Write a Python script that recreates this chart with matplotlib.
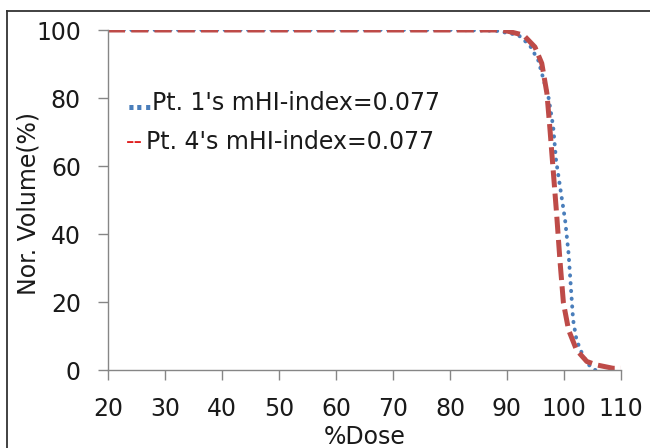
import matplotlib
matplotlib.use("Agg")
import matplotlib.pyplot as plt
from matplotlib.lines import Line2D

plt.rcParams['font.family'] = ['DejaVu Sans']

# Data (dose in %, normalized volume in %)
dose_pt1 = [20, 40, 60, 80, 88, 92, 94, 95.5, 97.3, 98.1, 98.6, 99.3, 100.2, 100.8, 101.2, 101.6, 102.2, 103.4, 104.6, 105.5]
vol_pt1 = [100, 100, 100, 100, 99.8, 98.5, 95.5, 91, 80, 71.6, 61.8, 54, 44, 34.3, 24.5, 14.7, 8.8, 3.9, 1.0, 0.0]

dose_pt4 = [20, 40, 60, 80, 88, 90, 92.9, 94.9, 96.1, 97.0, 97.5, 98.1, 98.7, 99.3, 99.9, 100.8, 102.2, 104.0, 105.7, 108.6, 110]
vol_pt4 = [100, 100, 100, 100, 100, 99.7, 98.5, 95, 90.2, 81.4, 71.6, 58.8, 46, 32, 19.7, 11.8, 5.9, 2.5, 1.5, 0.5, 0.5]

x_ticks = [20, 30, 40, 50, 60, 70, 80, 90, 100, 110]
y_ticks = [0, 20, 40, 60, 80, 100]
label_pt1 = "Pt. 1's mHI-index=0.077"
label_pt4 = "Pt. 4's mHI-index=0.077"

blue = '#4a7ebb'
red = '#be4b48'
axis_gray = '#868686'
FS = 17

fig = plt.figure(figsize=(6.5, 4.48), dpi=100)
ax = fig.add_axes([108/650, 1-370/448, (621-108)/650, 340/448])

ax.plot(dose_pt1, vol_pt1, color=blue, lw=2.8, linestyle=(0, (0.1, 1.9)),
        dash_capstyle='round', solid_capstyle='round')
ax.plot(dose_pt4, vol_pt4, color=red, lw=3.6, linestyle=(0, (3.4, 1.25)))

ax.set_xlim(20, 110)
ax.set_ylim(0, 100)
ax.set_xticks(x_ticks)
ax.set_yticks(y_ticks)
for s in ['top', 'right']:
    ax.spines[s].set_visible(False)
for s in ['left', 'bottom']:
    ax.spines[s].set_color(axis_gray)
    ax.spines[s].set_linewidth(1.0)
ax.tick_params(axis='both', direction='out', length=7.5, width=1.0, color=axis_gray,
               labelsize=FS, labelcolor='#1a1a1a')
ax.tick_params(axis='x', pad=12)
ax.tick_params(axis='y', pad=12)

ax.set_xlabel('%Dose', fontsize=FS, color='#1a1a1a')
ax.xaxis.label.set_va('top')
ax.xaxis.set_label_coords(0.5, (370-425)/340)
ax.set_ylabel('Nor. Volume(%)', fontsize=FS, color='#1a1a1a')
ax.yaxis.label.set_va('center')
ax.yaxis.set_label_coords((28-108)/513, 0.49)

# Text legend with coloured prefixes
fig.text(127/650, 1-103/448, '...', color=blue, fontsize=FS, va='center', ha='left', fontweight='bold')
fig.text(152/650, 1-103/448, label_pt1, color='#1a1a1a', fontsize=FS, va='center', ha='left')
fig.text(126/650, 1-142/448, '--', color='#e02020', fontsize=FS, va='center', ha='left')
fig.text(146/650, 1-142/448, label_pt4, color='#1a1a1a', fontsize=FS, va='center', ha='left')

# Outer frame (only top and left edges visible)
fig.add_artist(Line2D([7/650, 7/650], [0, 1-11/448], transform=fig.transFigure, color='#333333', lw=1.3))
fig.add_artist(Line2D([7/650, 1], [1-11/448, 1-11/448], transform=fig.transFigure, color='#333333', lw=1.3))

fig.savefig('out.png', dpi=100)
